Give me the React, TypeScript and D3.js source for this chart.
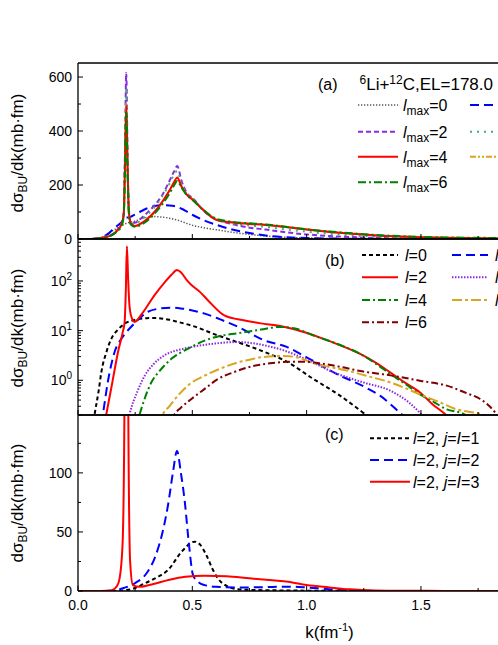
import React from 'react';
import * as d3 from 'd3';

// ---------- data ----------
// Panel (a): d sigma/dk vs k for different lmax
const kA = [0, 0.05, 0.08, 0.1, 0.13, 0.15, 0.17, 0.19, 0.2, 0.205, 0.211, 0.217, 0.222, 0.23, 0.248, 0.27, 0.3, 0.335, 0.37, 0.4, 0.42, 0.434, 0.453, 0.475, 0.504, 0.548, 0.607, 0.665, 0.75, 0.82, 0.9, 1.0, 1.1, 1.2, 1.3, 1.4, 1.5, 1.6, 1.8, 2.0, 2.2];
const aLmax0 = [0, 0.5, 2, 5, 20, 30, 40, 50, 54, 56, 58, 60, 61, 63, 66, 73, 80, 83, 81, 77, 73, 70, 65, 58, 50, 42, 34, 26, 17, 11, 6.5, 4, 2, 1, 0.5, 0.2, 0.1, 0, 0, 0, 0];
const aLmax1 = [0, 0.5, 2, 5, 18, 33, 48, 62, 70, 75, 80, 80, 80, 82, 90, 100, 113, 122, 125, 124, 122, 119, 112, 102, 88, 70, 52, 37, 22, 13, 7, 3.5, 2, 1, 0.5, 0.2, 0.1, 0, 0, 0, 0];
const aLmax2 = [0, 0.2, 1, 3, 9, 17, 32, 58, 100, 300, 615, 300, 120, 62, 60, 72, 95, 125, 165, 215, 250, 270, 215, 172, 150, 105, 72, 57, 42, 35, 26, 17, 11, 7, 4, 2.5, 1.5, 0.8, 0.2, 0, 0];
const aLmax3 = [0, 0.2, 1, 3, 9, 16, 30, 55, 95, 280, 560, 280, 115, 60, 55, 66, 88, 118, 160, 205, 238, 252, 205, 168, 147, 108, 73, 60, 50, 45, 36, 27, 19, 13, 9, 6, 4, 2.5, 1, 0.4, 0.1];
const aLmax4 = [0, 0.2, 1, 3, 9, 16, 30, 55, 90, 250, 495, 260, 110, 60, 48, 55, 72, 101, 140, 180, 210, 228, 194, 165, 144, 107, 70, 62, 56, 52, 45, 35, 26, 19, 13, 9, 6.5, 4.5, 2.5, 1, 0.5];
const aLmax5 = [0, 0.2, 1, 3, 9, 16, 29, 52, 88, 250, 500, 255, 105, 58, 47, 54, 70, 99, 138, 178, 208, 226, 195, 166, 145, 108, 72, 63, 57, 53, 46, 36, 27, 20, 14, 10, 7, 5, 3, 1.5, 0.7];
const aLmax6 = [0, 0.2, 1, 3, 8, 15, 27, 48, 85, 240, 470, 240, 100, 55, 45, 50, 66, 94, 130, 168, 198, 215, 190, 163, 142, 108, 74, 65, 58, 54, 46, 36, 28, 21, 15, 11, 8, 6, 4, 2, 1];
const aLabels = ['0', '1', '2', '3', '4', '5', '6'];

// Panel (b): contributions of individual l (log scale)
const bL0k = [0.06, 0.073, 0.09, 0.102, 0.125, 0.146, 0.175, 0.204, 0.25, 0.3, 0.335, 0.4, 0.437, 0.5, 0.612, 0.7, 0.758, 0.85, 0.904, 1.03, 1.146, 1.248, 1.3];
const bL0v = [0.08, 0.21, 0.6, 1.45, 3.8, 6.9, 10.5, 13.8, 16.5, 17.8, 18, 16.5, 15, 12.5, 8, 5.8, 4.7, 3.2, 2.5, 1.06, 0.49, 0.22, 0.14];
const bL1k = [0.09, 0.109, 0.13, 0.16, 0.19, 0.2, 0.24, 0.306, 0.35, 0.408, 0.45, 0.554, 0.62, 0.7, 0.817, 0.913, 1.0, 1.146, 1.25, 1.321, 1.409, 1.45];
const bL1v = [0.07, 0.21, 0.9, 3.7, 6.9, 8, 13, 24, 27.5, 29, 28, 22, 17, 11.9, 6.3, 4.7, 2.9, 1.24, 0.75, 0.49, 0.22, 0.15];
const bL2k = [0.1, 0.124, 0.15, 0.175, 0.195, 0.204, 0.209, 0.214, 0.219, 0.225, 0.232, 0.248, 0.28, 0.335, 0.38, 0.41, 0.433, 0.45, 0.475, 0.496, 0.532, 0.57, 0.642, 0.729, 0.8, 0.884, 0.95, 1.05, 1.15, 1.234, 1.3, 1.365, 1.43, 1.496, 1.55, 1.605, 1.65];
const bL2v = [0.06, 0.21, 0.9, 3.7, 9, 15, 60, 500, 120, 32, 20, 15, 22, 52, 95, 135, 167, 150, 105, 83, 61, 40, 20, 16, 14, 12.4, 10.5, 7.5, 5, 3.4, 2.3, 1.45, 0.9, 0.57, 0.33, 0.21, 0.13];
const bL3k = [0.2, 0.226, 0.26, 0.292, 0.33, 0.379, 0.45, 0.51, 0.6, 0.7, 0.76, 0.846, 0.9, 1.0, 1.117, 1.25, 1.365, 1.45, 1.496, 1.55];
const bL3v = [0.05, 0.21, 0.6, 1.24, 2.1, 3.2, 4.2, 4.8, 5.5, 5.9, 5.6, 4.7, 4.0, 2.6, 1.45, 0.9, 0.62, 0.35, 0.22, 0.12];
const bL4k = [0.25, 0.27, 0.321, 0.36, 0.408, 0.48, 0.554, 0.62, 0.7, 0.8, 0.884, 0.95, 1.03, 1.13, 1.234, 1.3, 1.365, 1.43, 1.496, 1.55, 1.613, 1.686, 1.72];
const bL4v = [0.1, 0.21, 0.91, 1.6, 2.7, 4.3, 6.3, 7.8, 8.9, 10.5, 11.9, 11, 8, 5.5, 3.4, 2.2, 1.34, 0.85, 0.52, 0.38, 0.26, 0.21, 0.15];
const bL5k = [0.35, 0.372, 0.4, 0.437, 0.49, 0.554, 0.62, 0.7, 0.75, 0.8, 0.9, 0.97, 1.03, 1.1, 1.175, 1.27, 1.365, 1.43, 1.496, 1.57, 1.656, 1.76, 1.8];
const bL5v = [0.12, 0.21, 0.3, 0.49, 0.85, 1.24, 1.7, 2.3, 2.6, 2.9, 3.1, 2.8, 2.2, 1.85, 1.57, 1.2, 0.91, 0.7, 0.52, 0.38, 0.26, 0.21, 0.18];
const bL6k = [0.4, 0.423, 0.45, 0.496, 0.55, 0.612, 0.68, 0.758, 0.84, 0.919, 1.0, 1.059, 1.15, 1.248, 1.32, 1.394, 1.5, 1.613, 1.7, 1.759, 1.8, 1.83];
const bL6v = [0.13, 0.21, 0.28, 0.42, 0.65, 1.06, 1.45, 1.9, 2.2, 2.35, 2.35, 2.2, 1.85, 1.5, 1.35, 1.2, 0.97, 0.78, 0.55, 0.42, 0.3, 0.21];
const bLabels = ['0', '1', '2', '3', '4', '5', '6'];

// Panel (c): l=2 components with j=I
const cJ1k = [0.15, 0.2, 0.25, 0.292, 0.35, 0.394, 0.452, 0.51, 0.535, 0.561, 0.59, 0.612, 0.656, 0.7, 0.75, 0.85, 1.0, 1.2, 2.2];
const cJ1v = [0, 0.5, 2.5, 6.5, 12, 17.8, 33, 41.8, 39, 30.5, 18, 10.7, 3.7, 1.5, 1.0, 0.6, 0.3, 0.1, 0];
const cJ2k = [0.12, 0.16, 0.2, 0.248, 0.3, 0.335, 0.37, 0.394, 0.415, 0.433, 0.45, 0.467, 0.485, 0.503, 0.53, 0.554, 0.6, 0.7, 0.8, 0.919, 1.0, 1.1, 1.2, 1.3, 2.2];
const cJ2v = [0, 0.5, 2.5, 6.5, 15, 27.7, 50, 73, 100, 118.6, 100, 75.7, 40, 13.6, 7, 5, 3.5, 3, 3.2, 3.7, 3, 1.5, 0.6, 0.1, 0];
const cJ3k = [0, 0.1, 0.146, 0.17, 0.182, 0.195, 0.203, 0.208, 0.211, 0.215, 0.22, 0.228, 0.24, 0.27, 0.33, 0.4, 0.47, 0.554, 0.65, 0.75, 0.85, 0.919, 1.0, 1.1, 1.19, 1.3, 1.45, 1.6, 2.2];
const cJ3v = [0, 0.1, 0.5, 4, 10.7, 40, 150, 350, 420, 350, 150, 25, 5, 3.5, 6, 9.5, 12, 13, 12.5, 10.7, 9, 7.9, 5, 3, 1.4, 0.5, 0.2, 0.1, 0];
const cLabels = ['1', '2', '3'];

const xMajor = [0, 0.5, 1.0, 1.5, 2.0];
const xMajorLabels = ['0.0', '0.5', '1.0', '1.5'];
const xMinor = [0.25, 0.75, 1.25, 1.75, 2.25];
const aMajor = [0, 200, 400, 600];
const aMinor = [100, 300, 500];
const bMajor = [1, 10, 100];
const cMajor = [0, 50, 100];
const cMinor = [25, 75, 125];

// ---------- layout & styles ----------
const W = 498, H = 645;
const LEFT = 78, RIGHT = 581;
const PA = { top: 63, bottom: 239 };
const PB = { top: 239, bottom: 415 };
const PC = { top: 415, bottom: 591 };
const FONT = '"Liberation Sans", Arial, Helvetica, sans-serif';

const x = d3.scaleLinear().domain([0, 2.2]).range([LEFT, RIGHT]);
const yA = d3.scaleLinear().domain([0, 652]).range([PA.bottom, PA.top]);
const yB = d3.scaleLog().domain([0.2, 700]).range([PB.bottom, PB.top]);
const yC = d3.scaleLinear().domain([0, 149]).range([PC.bottom, PC.top]);

type Sty = { color: string; dash?: string; width: number };
const aStyles: Sty[] = [
  { color: '#555555', dash: '1.3,1.7', width: 1.5 },
  { color: '#0000ff', dash: '9,5', width: 2 },
  { color: '#8a2be2', dash: '5,3', width: 2 },
  { color: '#3cb371', dash: '2,5', width: 2 },
  { color: '#ff0000', width: 2 },
  { color: '#daa520', dash: '6,2,2,2,2,2', width: 2 },
  { color: '#008000', dash: '8,3,2,3', width: 2 },
];
const bStyles: Sty[] = [
  { color: '#000000', dash: '4,3', width: 2 },
  { color: '#0000ff', dash: '9,5', width: 2 },
  { color: '#ff0000', width: 2 },
  { color: '#8a2be2', dash: '1.5,1.5', width: 2 },
  { color: '#008000', dash: '8,3,2,3', width: 2 },
  { color: '#daa520', dash: '10,3,3,3', width: 2 },
  { color: '#800000', dash: '7,3,2,3', width: 2 },
];
const cStyles: Sty[] = [
  { color: '#000000', dash: '4,3', width: 2 },
  { color: '#0000ff', dash: '9,5', width: 2 },
  { color: '#ff0000', width: 2 },
];

function path(ks: number[], vs: number[], ys: (v: number) => number) {
  const pts = ks.map((k, i) => [k, vs[i]] as [number, number]);
  return d3
    .line<[number, number]>()
    .x((d) => x(d[0]))
    .y((d) => ys(d[1]))
    .curve(d3.curveMonotoneX)(pts) as string;
}

function Frame({ p }: { p: { top: number; bottom: number } }) {
  return (
    <g>
      <line x1={LEFT} x2={RIGHT} y1={p.top} y2={p.top} stroke="#000" strokeWidth={1.3} />
      <line x1={LEFT} x2={RIGHT} y1={p.bottom} y2={p.bottom} stroke="#000" strokeWidth={1.3} />
      <line x1={LEFT} x2={LEFT} y1={p.top} y2={p.bottom} stroke="#000" strokeWidth={1.3} />
      {xMajor.map((t) => (
        <line key={'M' + t} x1={x(t)} x2={x(t)} y1={p.bottom} y2={p.bottom - 5} stroke="#000" strokeWidth={1} />
      ))}
      {xMinor.map((t) => (
        <line key={'m' + t} x1={x(t)} x2={x(t)} y1={p.bottom} y2={p.bottom - 3} stroke="#000" strokeWidth={1} />
      ))}
    </g>
  );
}

function YLabel({ cy }: { cy: number }) {
  return (
    <text transform={`translate(23,${cy}) rotate(-90)`} textAnchor="middle" fontSize={17} fontFamily={FONT}>
      dσ<tspan dy={4} fontSize={12}>BU</tspan>
      <tspan dy={-4}>/dk(mb·fm)</tspan>
    </text>
  );
}

function LegendLine({ x1, x2, y, s }: { x1: number; x2: number; y: number; s: Sty }) {
  return <line x1={x1} x2={x2} y1={y} y2={y} stroke={s.color} strokeWidth={s.width} strokeDasharray={s.dash} />;
}

export default function App() {
  const aSeries = [aLmax0, aLmax1, aLmax2, aLmax3, aLmax4, aLmax5, aLmax6];
  const bSeries: [number[], number[]][] = [
    [bL0k, bL0v], [bL1k, bL1v], [bL2k, bL2v], [bL3k, bL3v], [bL4k, bL4v], [bL5k, bL5v], [bL6k, bL6v],
  ];
  const cSeries: [number[], number[]][] = [[cJ1k, cJ1v], [cJ2k, cJ2v], [cJ3k, cJ3v]];
  const bMinor: number[] = [];
  [0.1, 1, 10, 100].forEach((d) => {
    for (let i = 2; i <= 9; i++) {
      const v = d * i;
      if (v >= 0.2 && v <= 700) bMinor.push(v);
    }
  });

  const aRows = [105, 131.7, 156.7, 182.3];
  const bRows = [255, 277.3, 300, 322.3];
  const cRows = [438.3, 460, 481.7];

  return (
    <svg
      width={W}
      height={H}
      style={{ position: 'absolute', left: 0, top: 0, background: '#fff' }}
      fontFamily={FONT}
    >
      <defs>
        <clipPath id="cA"><rect x={LEFT} y={PA.top} width={RIGHT - LEFT} height={PA.bottom - PA.top} /></clipPath>
        <clipPath id="cB"><rect x={LEFT} y={PB.top} width={RIGHT - LEFT} height={PB.bottom - PB.top} /></clipPath>
        <clipPath id="cC"><rect x={LEFT} y={PC.top} width={RIGHT - LEFT} height={PC.bottom - PC.top} /></clipPath>
      </defs>
      <rect x={0} y={0} width={W} height={H} fill="#fff" />

      <g clipPath="url(#cA)" fill="none">
        {[0, 1, 2, 3, 5, 4, 6].map((i) => (
          <path key={i} d={path(kA, aSeries[i], yA)} stroke={aStyles[i].color} strokeWidth={aStyles[i].width}
            strokeDasharray={aStyles[i].dash} />
        ))}
      </g>
      <g clipPath="url(#cB)" fill="none">
        {bSeries.map((s, i) => (
          <path key={i} d={path(s[0], s[1], yB)} stroke={bStyles[i].color} strokeWidth={bStyles[i].width}
            strokeDasharray={bStyles[i].dash} />
        ))}
      </g>
      <g clipPath="url(#cC)" fill="none">
        {cSeries.map((s, i) => (
          <path key={i} d={path(s[0], s[1], yC)} stroke={cStyles[i].color} strokeWidth={cStyles[i].width}
            strokeDasharray={cStyles[i].dash} />
        ))}
      </g>

      <Frame p={PA} />
      <Frame p={PB} />
      <Frame p={PC} />

      {aMajor.map((t) => (
        <g key={'a' + t}>
          <line x1={LEFT} x2={LEFT + 5} y1={yA(t)} y2={yA(t)} stroke="#000" />
          <text x={72} y={yA(t)} dy="0.35em" textAnchor="end" fontSize={14}>{t}</text>
        </g>
      ))}
      {aMinor.map((t) => (
        <line key={'am' + t} x1={LEFT} x2={LEFT + 3} y1={yA(t)} y2={yA(t)} stroke="#000" />
      ))}
      {bMajor.map((t) => (
        <g key={'b' + t}>
          <line x1={LEFT} x2={LEFT + 5} y1={yB(t)} y2={yB(t)} stroke="#000" />
          <text x={72} y={yB(t)} dy="0.35em" textAnchor="end" fontSize={14}>
            10<tspan dy={-6} fontSize={10}>{Math.round(Math.log10(t))}</tspan>
          </text>
        </g>
      ))}
      {bMinor.map((t) => (
        <line key={'bm' + t} x1={LEFT} x2={LEFT + 3} y1={yB(t)} y2={yB(t)} stroke="#000" />
      ))}
      {cMajor.map((t) => (
        <g key={'c' + t}>
          <line x1={LEFT} x2={LEFT + 5} y1={yC(t)} y2={yC(t)} stroke="#000" />
          <text x={72} y={yC(t)} dy="0.35em" textAnchor="end" fontSize={14}>{t}</text>
        </g>
      ))}
      {cMinor.map((t) => (
        <line key={'cm' + t} x1={LEFT} x2={LEFT + 3} y1={yC(t)} y2={yC(t)} stroke="#000" />
      ))}

      {xMajorLabels.map((lab, i) => (
        <text key={'xl' + lab} x={x(xMajor[i])} y={610} textAnchor="middle" fontSize={14}>{lab}</text>
      ))}
      <text x={(LEFT + RIGHT) / 2} y={638} textAnchor="middle" fontSize={17}>
        k(fm<tspan dy={-7} fontSize={11}>-1</tspan><tspan dy={7}>)</tspan>
      </text>

      <YLabel cy={153} />
      <YLabel cy={328} />
      <YLabel cy={503} />

      {/* Legend A */}
      <text x={318} y={90} fontSize={16}>(a)</text>
      <text x={359.5} y={90} fontSize={17}>
        <tspan dy={-6} fontSize={12}>6</tspan>
        <tspan dy={6}>Li+</tspan>
        <tspan dy={-6} fontSize={12}>12</tspan>
        <tspan dy={6}>C,EL=178.0</tspan>
      </text>
      {aLabels.map((lab, i) => {
        const col = i % 2;
        const row = Math.floor(i / 2);
        const x1 = 358 + col * 112;
        const y = aRows[row];
        return (
          <g key={'la' + i}>
            <LegendLine x1={x1} x2={x1 + 40} y={y} s={aStyles[i]} />
            <text x={x1 + 45} y={y + 6} fontSize={16}>
              <tspan fontStyle="italic">l</tspan>
              <tspan dy={4} fontSize={12}>max</tspan>
              <tspan dy={-4}>={lab}</tspan>
            </text>
          </g>
        );
      })}

      {/* Legend B */}
      <text x={325} y={266} fontSize={16}>(b)</text>
      {bLabels.map((lab, i) => {
        const col = i % 2;
        const row = Math.floor(i / 2);
        const x1 = 362 + col * 90;
        const y = bRows[row];
        return (
          <g key={'lb' + i}>
            <LegendLine x1={x1} x2={x1 + 36} y={y} s={bStyles[i]} />
            <text x={x1 + 43} y={y + 6} fontSize={16}>
              <tspan fontStyle="italic">l</tspan>={lab}
            </text>
          </g>
        );
      })}

      {/* Legend C */}
      <text x={325} y={440} fontSize={16}>(c)</text>
      {cLabels.map((lab, i) => {
        const y = cRows[i];
        return (
          <g key={'lc' + i}>
            <LegendLine x1={370} x2={410} y={y} s={cStyles[i]} />
            <text x={413} y={y + 6} fontSize={16}>
              <tspan fontStyle="italic">l</tspan>=2, <tspan fontStyle="italic">j</tspan>=<tspan fontStyle="italic">I</tspan>={lab}
            </text>
          </g>
        );
      })}
    </svg>
  );
}
